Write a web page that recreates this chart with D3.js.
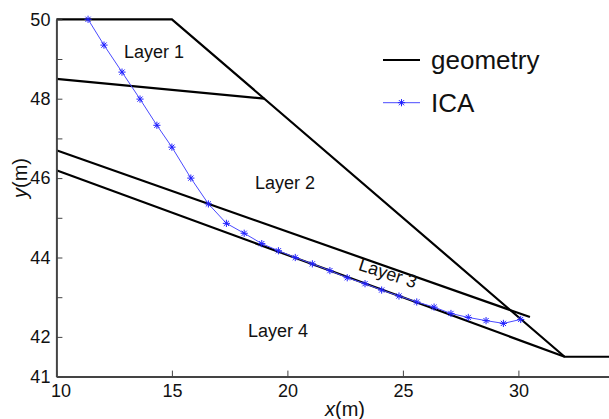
<!DOCTYPE html>
<html>
<head>
<meta charset="utf-8">
<script src="https://cdn.jsdelivr.net/npm/d3@7"></script>
<style>
  body { margin: 0; background: #fff; }
  svg { font-family: "Liberation Sans", Arial, sans-serif; }
</style>
</head>
<body>
<div id="chart"></div>
<script>
// geometry lines
const surfaceX = [10, 15, 32, 34];
const surfaceY = [50, 50, 41.5, 41.5];
const layer12X = [10, 19];
const layer12Y = [48.5, 48];
const layer3TopX = [10, 30.5];
const layer3TopY = [46.7, 42.5];
const layer3BotX = [10, 32];
const layer3BotY = [46.2, 41.5];

// ICA slip surface
const icaX = [11.37, 12.06, 12.84, 13.62, 14.35, 15.0, 15.82, 16.58, 17.36, 18.13, 18.89, 19.61,
  20.34, 21.08, 21.84, 22.59, 23.36, 24.08, 24.83, 25.6, 26.35, 27.08, 27.83, 28.6, 29.35, 30.1];
const icaY = [50.0, 49.35, 48.67, 47.99, 47.33, 46.78, 46.0, 45.35, 44.86, 44.61, 44.35, 44.17,
  44.0, 43.84, 43.67, 43.49, 43.34, 43.18, 43.03, 42.88, 42.75, 42.59, 42.49, 42.41, 42.34, 42.44];

const xTicks = [10, 15, 20, 25, 30];
const yTicks = [41, 42, 43, 44, 45, 46, 47, 48, 49, 50];
const yLabels = [41, 42, 44, 46, 48, 50];

const layerNames = ["Layer 1", "Layer 2", "Layer 3", "Layer 4"];

const width = 609, height = 419;

const svg = d3.select("#chart").append("svg")
    .attr("width", width)
    .attr("height", height);

const x = d3.scaleLinear().domain([10, 34]).range([56.4, 610.8]);
const y = d3.scaleLinear().domain([41, 50]).range([376.6, 19.3]);

const line = d3.line().x(d => x(d[0])).y(d => y(d[1]));
const zip = (a, b) => a.map((v, i) => [v, b[i]]);

// geometry
const geom = [
  zip(surfaceX, surfaceY),
  zip(layer12X, layer12Y),
  zip(layer3TopX, layer3TopY),
  zip(layer3BotX, layer3BotY)
];
svg.selectAll(".geom")
    .data(geom)
    .enter()
    .append("path")
    .attr("class", "geom")
    .attr("d", line)
    .attr("fill", "none")
    .attr("stroke", "#000")
    .attr("stroke-width", 2.2);

// ICA line + markers
const icaPts = zip(icaX, icaY);
svg.append("path")
    .attr("d", line(icaPts))
    .attr("fill", "none")
    .attr("stroke", "#4a4aff")
    .attr("stroke-width", 1);

function star(cx, cy, r) {
  const d = r * 0.72;
  return `M${cx - r},${cy}L${cx + r},${cy}M${cx},${cy - r}L${cx},${cy + r}` +
    `M${cx - d},${cy - d}L${cx + d},${cy + d}M${cx - d},${cy + d}L${cx + d},${cy - d}`;
}
svg.selectAll(".mk")
    .data(icaPts)
    .enter()
    .append("path")
    .attr("class", "mk")
    .attr("d", d => star(x(d[0]), y(d[1]), 3.6))
    .attr("stroke", "#2020ff")
    .attr("stroke-width", 1);

// axes
const xAxis = svg.append("g")
    .attr("transform", `translate(0,${y(41)})`)
    .call(d3.axisBottom(x).tickValues(xTicks).tickSizeInner(-6).tickSizeOuter(0).tickPadding(8));
const yAxis = svg.append("g")
    .attr("transform", `translate(${x(10)},0)`)
    .call(d3.axisLeft(y).tickValues(yTicks).tickSizeInner(-6).tickSizeOuter(0).tickPadding(6)
      .tickFormat(d => yLabels.includes(d) ? d : ""));

[xAxis, yAxis].forEach(g => {
  g.select(".domain").attr("stroke", "#444").attr("stroke-width", 2);
  g.selectAll(".tick line").attr("stroke", "#444").attr("stroke-width", 1);
  g.selectAll(".tick text")
      .attr("fill", "#111")
      .style("font-size", "18px")
      .style("font-family", "'Liberation Sans', Arial, sans-serif");
});
// first x label sits a bit right of its tick
xAxis.selectAll(".tick text").filter(d => d === 10).attr("dx", 4);

// axis titles
const xt = svg.append("text")
    .attr("x", 345).attr("y", 416)
    .attr("text-anchor", "middle")
    .style("font-size", "20px")
    .attr("fill", "#111");
xt.append("tspan").style("font-style", "italic").text("x");
xt.append("tspan").text("(m)");

const yt = svg.append("text")
    .attr("transform", "translate(27,178) rotate(-90)")
    .attr("text-anchor", "middle")
    .style("font-size", "20px")
    .attr("fill", "#111");
yt.append("tspan").style("font-style", "italic").text("y");
yt.append("tspan").text("(m)");

// layer labels
const layerPos = [[154, 58, 0], [285, 189, 0], [386, 279, 18], [278, 337, 0]];
svg.selectAll(".layer")
    .data(layerNames)
    .enter()
    .append("text")
    .attr("class", "layer")
    .attr("text-anchor", "middle")
    .attr("transform", (d, i) => `translate(${layerPos[i][0]},${layerPos[i][1]}) rotate(${layerPos[i][2]})`)
    .style("font-size", "18px")
    .attr("fill", "#111")
    .text(d => d);

// legend
const legend = svg.append("g");
legend.append("line")
    .attr("x1", 383).attr("x2", 420).attr("y1", 60).attr("y2", 60)
    .attr("stroke", "#000").attr("stroke-width", 2.2);
legend.append("text")
    .attr("x", 431).attr("y", 69)
    .style("font-size", "26px").attr("fill", "#111")
    .text("geometry");
legend.append("line")
    .attr("x1", 383).attr("x2", 420).attr("y1", 102.7).attr("y2", 102.7)
    .attr("stroke", "#4a4aff").attr("stroke-width", 1);
legend.append("path")
    .attr("d", star(401.5, 102.7, 3.6))
    .attr("stroke", "#2020ff").attr("stroke-width", 1);
legend.append("text")
    .attr("x", 431).attr("y", 112)
    .style("font-size", "26px").attr("fill", "#111")
    .text("ICA");
</script>
</body>
</html>
